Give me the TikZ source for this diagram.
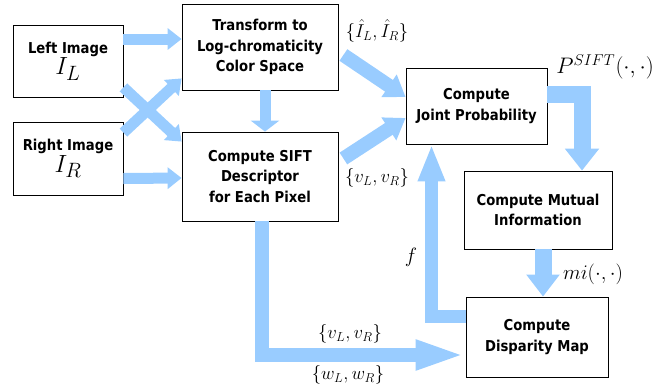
\documentclass[tikz,border=0pt]{standalone}
\usepackage{amsmath,amssymb}
\usepackage{fontspec}
\setsansfont{DejaVu Sans}[FakeStretch=0.88]
\usepackage{tikz}
\usetikzlibrary{arrows.meta,positioning}
\definecolor{flowblue}{RGB}{153,204,255}

\begin{document}
\begin{tikzpicture}[
  x=1pt, y=-1pt,
  font=\sffamily\bfseries\fontsize{15}{20.5}\selectfont,
  box/.style={draw, thick, rectangle, align=center, inner sep=2pt},
  flow/.style={draw=flowblue, line width=11pt, line join=miter,
    -{Triangle[width=#1]}},
  flow/.default={21pt,length=14pt},
  lab/.style={font=\fontsize{17.28}{20}\selectfont, inner sep=0pt}
]
\useasboundingbox (0,0) rectangle (671,389);
\node[box, minimum width=110pt, minimum height=72pt] (l) at (68,61)
  {Left Image\\[1pt]{\fontsize{24.88}{26}\selectfont$I_L$}};
\node[box, minimum width=110pt, minimum height=73pt] (r) at (68,158.5)
  {Right Image\\[1pt]{\fontsize{24.88}{26}\selectfont$I_R$}};
\node[box, minimum width=156pt, minimum height=86pt] (t) at (260,47)
  {Transform to\\Log-chromaticity\\Color Space};
\node[box, minimum width=156pt, minimum height=89pt] (s) at (260,176.5)
  {Compute SIFT\\Descriptor\\for Each Pixel};
\node[box, minimum width=141pt, minimum height=76pt] (j) at (476.5,106)
  {Compute\\Joint Probability};
\node[box, minimum width=148pt, minimum height=78pt] (m) at (538,210)
  {Compute Mutual\\Information};
\node[box, minimum width=142pt, minimum height=80pt] (d) at (537,337)
  {Compute\\Disparity Map};

\draw[flow] ([yshift=22pt]l.east) -- ([yshift=8pt]t.west);
\draw[flow] ([yshift=-20pt]r.east) -- ([yshift=-1.5pt]s.west);
\draw[flow] ([yshift=10pt]l.south east) -- ([yshift=-10pt]s.north west);
\draw[flow] ([yshift=-11pt]r.north east) -- ([yshift=12pt]t.south west);
\draw[flow={28pt,length=11pt}] ([xshift=5pt]t.south) -- ([xshift=5pt]s.north);
\draw[flow={26pt,length=20pt}, line width=14pt]
  ([xshift=5pt,yshift=-8pt]t.east) -- ([yshift=9pt]j.west);
\draw[flow={26pt,length=20pt}, line width=14pt]
  ([xshift=5pt,yshift=18pt]s.east) -- ([yshift=-12pt]j.west);
\draw[flow={33pt,length=22pt}, line width=17pt]
  ([yshift=12pt]j.east) -| ([xshift=44pt]m.north);
\draw[flow={32pt,length=22pt}, line width=17pt]
  ([xshift=5pt]m.south) -- ([xshift=6pt]d.north);
\draw[flow={25pt,length=37pt}, line width=13pt]
  ([yshift=21pt]d.west) -| ([xshift=-45pt]j.south);
\draw[flow={27pt,length=50pt}, line width=14pt]
  ([xshift=2pt]s.south) |- ([yshift=-18pt]d.west);

\node[lab] (hat) at (377,31) {\scalebox{1.08}{$\{\hat{I}_L,\hat{I}_R\}$}};
\node[lab] (v1) at (377,178) {\scalebox{1.08}{$\{v_L,v_R\}$}};
\node[lab] (p) at (605,67) {\scalebox{1.3}{$P^{SIFT}(\cdot,\cdot)$}};
\node[lab] (mi) at (593,274) {\scalebox{1.2}{$mi(\cdot,\cdot)$}};
\node[lab] (f) at (411,257) {\scalebox{1.2}{$f$}};
\node[lab] (v2) at (350,334) {\scalebox{1.08}{$\{v_L,v_R\}$}};
\node[lab] (w) at (348,375) {\scalebox{1.08}{$\{w_L,w_R\}$}};
\end{tikzpicture}
\end{document}
